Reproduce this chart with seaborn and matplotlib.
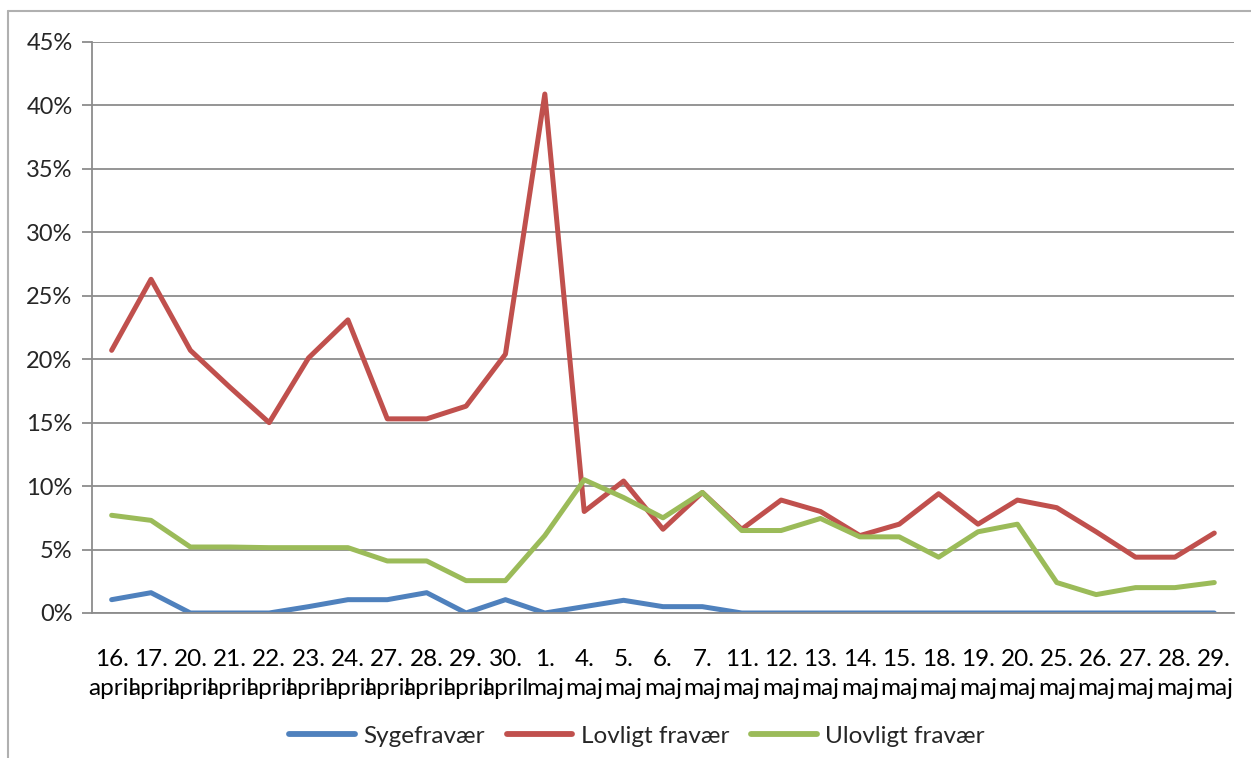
import pandas as pd
import seaborn as sns
import matplotlib.pyplot as plt
from matplotlib.ticker import PercentFormatter, FixedLocator

# dates on the x axis
days = ["16.", "17.", "20.", "21.", "22.", "23.", "24.", "27.", "28.", "29.", "30.",
        "1.", "4.", "5.", "6.", "7.", "11.", "12.", "13.", "14.", "15.", "18.", "19.",
        "20.", "25.", "26.", "27.", "28.", "29."]
months = ["april"] * 11 + ["maj"] * 18

# absence in percent
sygefravaer = [1.05, 1.6, 0, 0, 0, 0.5, 1.05, 1.05, 1.6, 0, 1.05,
               0, 0.5, 1.0, 0.5, 0.5, 0, 0, 0, 0, 0, 0, 0,
               0, 0, 0, 0, 0, 0]
lovligt = [20.7, 26.3, 20.7, 17.8, 15.0, 20.1, 23.1, 15.3, 15.3, 16.3, 20.4,
           40.9, 8.0, 10.4, 6.6, 9.5, 6.6, 8.9, 8.0, 6.1, 7.0, 9.4, 7.0,
           8.9, 8.3, 6.4, 4.4, 4.4, 6.3]
ulovligt = [7.7, 7.3, 5.2, 5.2, 5.15, 5.15, 5.15, 4.1, 4.1, 2.55, 2.55,
            6.1, 10.5, 9.1, 7.5, 9.5, 6.5, 6.5, 7.45, 6.0, 6.0, 4.4, 6.4,
            7.0, 2.4, 1.45, 2.0, 2.0, 2.4]

series = ["Sygefravær", "Lovligt fravær", "Ulovligt fravær"]
colors = ["#4F81BD", "#C0504D", "#9BBB59"]

n = len(days)
df = pd.DataFrame({
    "pos": list(range(n)) * 3,
    "value": sygefravaer + lovligt + ulovligt,
    "serie": [series[0]] * n + [series[1]] * n + [series[2]] * n,
})

sns.set_style("white")
plt.rcParams["font.family"] = ["Lato", "DejaVu Sans"]

fig = plt.figure(figsize=(12.51, 7.58), dpi=100)
ax = fig.add_axes([0.0735, 0.1913, 0.9129, 0.7533])

sns.lineplot(data=df, x="pos", y="value", hue="serie", palette=colors,
             linewidth=3.6, ax=ax, legend=True)

ax.set_xlim(-0.5, n - 0.5)
ax.set_ylim(0, 45)
ax.set_yticks(range(0, 46, 5))
ax.yaxis.set_major_formatter(PercentFormatter(decimals=0))
ax.grid(axis="y", color="#8c8c8c", linewidth=1.3)
ax.set_axisbelow(True)

ax.set_xticks(range(n))
ax.set_xticklabels([d + "\n" + m for d, m in zip(days, months)], linespacing=1.45)
ax.xaxis.set_minor_locator(FixedLocator([i - 0.5 for i in range(n + 1)]))
ax.tick_params(axis="x", which="major", length=0, pad=26, labelsize=17.5, colors="black")
ax.tick_params(axis="x", which="minor", length=7, width=1.3, color="#8c8c8c", direction="out")
ax.tick_params(axis="y", length=7, width=1.3, color="#8c8c8c", labelsize=17, pad=7, left=True)

for side in ["top", "right"]:
    ax.spines[side].set_visible(False)
for side in ["left", "bottom"]:
    ax.spines[side].set_color("#8c8c8c")
    ax.spines[side].set_linewidth(1.3)

ax.set_xlabel("")
ax.set_ylabel("")

handles, labels = ax.get_legend_handles_labels()
for h in handles:
    h.set_linewidth(4.2)
ax.legend(handles, labels, loc="center", bbox_to_anchor=(0.509, 0.029),
          bbox_transform=fig.transFigure, ncol=3, frameon=False, fontsize=17.5,
          handlelength=2.7, columnspacing=0.9, handletextpad=0.35)

# outer chart border (top and left edges visible)
fig.add_artist(plt.Line2D([0.0064, 0.0064], [0, 0.985], transform=fig.transFigure,
                          color="#b0b0b0", linewidth=1.5))
fig.add_artist(plt.Line2D([0.0064, 1.0], [0.985, 0.985], transform=fig.transFigure,
                          color="#b0b0b0", linewidth=1.5))

fig.savefig("out.png", dpi=100)
